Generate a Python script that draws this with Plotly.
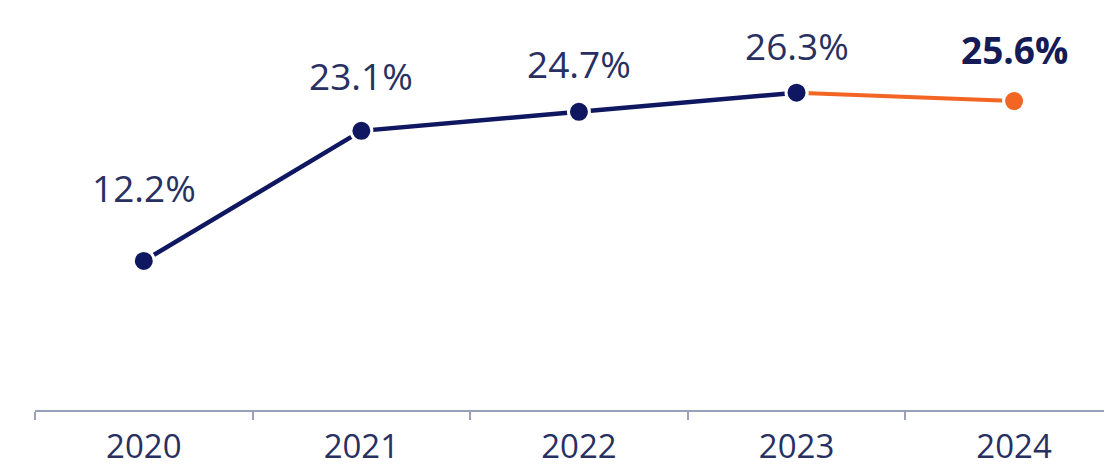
import plotly.graph_objects as go

years = ["2020", "2021", "2022", "2023", "2024"]
values = [12.2, 23.1, 24.7, 26.3, 25.6]
labels = ["12.2%", "23.1%", "24.7%", "26.3%", "25.6%"]
n_actual = 4  # first four points are navy, last one orange

NAVY = "#0f1761"
ORANGE = "#f26522"
TEXT = "#283061"
FONT = "Open Sans"

fig = go.Figure()

# invisible anchor trace to fix category order
fig.add_trace(go.Scatter(
    x=years, y=values, mode="markers", marker=dict(opacity=0),
    hoverinfo="skip", showlegend=False,
))
# orange segment (2023 -> 2024)
fig.add_trace(go.Scatter(
    x=years[n_actual - 1:], y=values[n_actual - 1:],
    mode="lines+markers",
    line=dict(color=ORANGE, width=4),
    marker=dict(size=21, color=ORANGE, line=dict(color="white", width=3)),
    hoverinfo="skip", showlegend=False, cliponaxis=False,
))
# navy series
fig.add_trace(go.Scatter(
    x=years[:n_actual], y=values[:n_actual],
    mode="lines+markers",
    line=dict(color=NAVY, width=4.5),
    marker=dict(size=21, color=NAVY, line=dict(color="white", width=3)),
    hoverinfo="skip", showlegend=False, cliponaxis=False,
))

label_shift = [73, 55, 48, 47, 52]
for i, (y, t) in enumerate(zip(values, labels)):
    last = i == len(years) - 1
    fig.add_annotation(
        x=i, y=y, xref="x", yref="y", text=f"<b>{t}</b>" if last else t,
        showarrow=False, yshift=label_shift[i],
        font=dict(family=FONT, size=37, color="#141b57" if last else TEXT),
    )

fig.update_layout(
    width=1104, height=464,
    margin=dict(l=27, r=0, t=0, b=62, autoexpand=False),
    paper_bgcolor="white", plot_bgcolor="white",
    xaxis=dict(
        type="category", categoryorder="array", categoryarray=years,
        range=[-0.5, 4.45], automargin=False,
        tickson="boundaries", ticks="outside", ticklen=8, tickwidth=1.5,
        tickcolor="#9aa0b8", showline=True, linecolor="#9aa0b8", linewidth=1.5,
        showgrid=False, zeroline=False, ticklabelstandoff=7,
        tickfont=dict(family=FONT, size=33, color=TEXT),
    ),
    yaxis=dict(range=[-0.3, 33.4], visible=False, showgrid=False, zeroline=False),
)

fig.write_html("out.html")
